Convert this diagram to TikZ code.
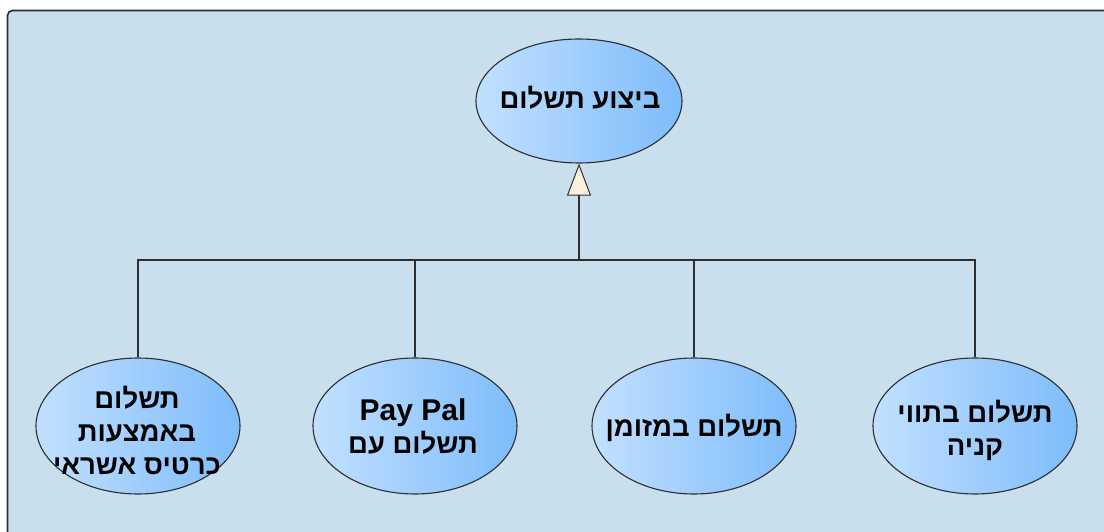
\documentclass[tikz,border=0pt]{standalone}
\usepackage{fontspec}
\setmainfont{Liberation Sans}
\newfontfamily\heb[Script=Hebrew]{Liberation Sans}
\TeXXeTstate=1
\usetikzlibrary{shapes.geometric,arrows.meta}
\definecolor{bg}{HTML}{CADFED}
\definecolor{lft}{HTML}{C2E0FF}
\definecolor{rgt}{HTML}{7DBCFB}
\definecolor{edge}{HTML}{2E2E2E}
\definecolor{cream}{HTML}{FDF0DC}
\begin{document}
\begin{tikzpicture}[x=1pt,y=-1pt,
  bub/.style={ellipse, draw=edge, line width=1.1pt, left color=lft, right color=rgt,
    minimum width=204pt, minimum height=136pt, inner sep=0pt},
  topbub/.style={bub, minimum width=206pt, minimum height=124pt},
  txt/.style={font=\heb\bfseries\fontsize{27.5}{33}\selectfont, align=center, text=black, inner sep=0pt},
  latin/.style={font=\bfseries\fontsize{30}{33}\selectfont},
  conn/.style={draw=edge, line width=1.2pt}]
\useasboundingbox (0,0) rectangle (1104,532);
\fill[white] (0,0) rectangle (1104,532);
\draw[fill=bg, draw=edge, line width=1.6pt, rounded corners=5pt] (7.5,10.5) rectangle (1130,560);
% nodes
\node[topbub] (top) at (579,101) {};
\node[txt] (topt) at (580,98) {\beginR ביצוע תשלום\endR};
\node[bub] (b1) at (138,426) {};
\node[bub] (b2) at (415,426) {};
\node[bub] (b3) at (694,426) {};
\node[bub] (b4) at (975,426) {};
\node[txt] (t1) at (137,430) {\beginR תשלום\endR\\\beginR באמצעות\endR\\\beginR כרטיס אשראי\endR};
\node[txt] (t2) at (413,427) {{\fontsize{30}{33}\selectfont Pay Pal}\\\beginR תשלום עם\endR};
\node[txt] (t3) at (694,428) {\beginR תשלום במזומן\endR};
\node[txt] (t4) at (975,430) {\beginR תשלום בתווי\endR\\\beginR קניה\endR};
\coordinate (j) at (579,260);
% connectors
\draw[conn] (b1.north) |- (j);
\draw[conn] (b2.north) |- (j);
\draw[conn] (b3.north) |- (j);
\draw[conn] (b4.north) |- (j);
\draw[conn, -{Triangle[width=24pt,length=32pt,fill=cream,line width=1pt]}] (j) -- (top.south);
\end{tikzpicture}
\end{document}
